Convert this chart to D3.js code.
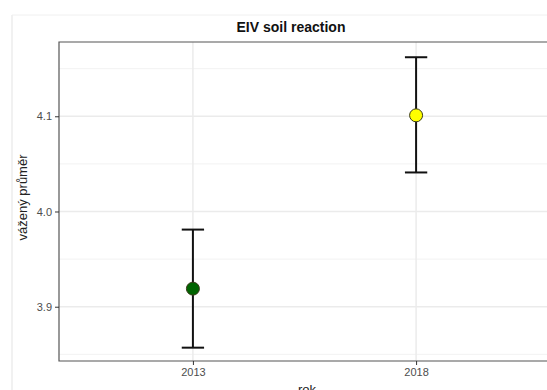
<!DOCTYPE html>
<html>
<head>
<meta charset="utf-8">
<script src="https://cdn.jsdelivr.net/npm/d3@7"></script>
<style>
  html, body { margin: 0; padding: 0; background: #fff; overflow: hidden; }
  svg { display: block; }
  text { font-family: "Liberation Sans", Arial, sans-serif; }
</style>
</head>
<body>
<svg id="chart" width="547" height="390"></svg>
<script>
// data
var years = ["2013", "2018"];
var means = [3.919, 4.101];
var lower = [3.857, 4.041];
var upper = [3.981, 4.162];
var fills = ["#006400", "#ffff00"];
var yTicks = [3.9, 4.0, 4.1];
var yMinor = [3.85, 3.95, 4.05, 4.15];

var svg = d3.select("#chart");

var margin = {top: 42, left: 59},
    panelW = 491,
    panelH = 319;

// faint frame from the screenshot
svg.append("line").attr("x1", 12).attr("x2", 12).attr("y1", 15).attr("y2", 390)
    .attr("stroke", "#e3e3e3").attr("stroke-width", 1);
svg.append("line").attr("x1", 12).attr("x2", 547).attr("y1", 15).attr("y2", 15)
    .attr("stroke", "#f0f0f0").attr("stroke-width", 1);

var g = svg.append("g")
    .attr("transform", "translate(" + margin.left + "," + margin.top + ")");

// discrete x like ggplot: positions 1..n with 0.6 expansion
var x = d3.scaleLinear().domain([0.4, years.length + 0.6]).range([0, panelW]);
var y = d3.scaleLinear().domain([3.843, 4.178]).range([panelH, 0]);

// grid
g.selectAll(".minor").data(yMinor).enter().append("line")
    .attr("x1", 0).attr("x2", panelW)
    .attr("y1", function(d) { return y(d); }).attr("y2", function(d) { return y(d); })
    .attr("stroke", "#f2f2f2").attr("stroke-width", 1);
g.selectAll(".major").data(yTicks).enter().append("line")
    .attr("x1", 0).attr("x2", panelW)
    .attr("y1", function(d) { return y(d); }).attr("y2", function(d) { return y(d); })
    .attr("stroke", "#ebebeb").attr("stroke-width", 1.5);
g.selectAll(".vmajor").data(years).enter().append("line")
    .attr("x1", function(d, i) { return x(i + 1); }).attr("x2", function(d, i) { return x(i + 1); })
    .attr("y1", 0).attr("y2", panelH)
    .attr("stroke", "#ebebeb").attr("stroke-width", 1.5);

// panel border (right side falls outside the crop)
g.append("path")
    .attr("d", "M" + (panelW + 20) + ",0H0V" + panelH + "H" + (panelW + 20))
    .attr("fill", "none").attr("stroke", "#555").attr("stroke-width", 1.2);

// axes
var yAxis = d3.axisLeft(y).tickValues(yTicks).tickFormat(d3.format(".1f")).tickSize(4).tickPadding(3);
var xAxis = d3.axisBottom(x).tickValues([1, 2]).tickFormat(function(d) { return years[d - 1]; }).tickSize(4).tickPadding(3);

var ya = g.append("g").call(yAxis);
var xa = g.append("g").attr("transform", "translate(0," + panelH + ")").call(xAxis);
[ya, xa].forEach(function(a) {
    a.select(".domain").remove();
    a.selectAll(".tick line").attr("stroke", "#333");
    a.selectAll(".tick text").attr("fill", "#4d4d4d").style("font-size", "11px");
});

// error bars
var capHalf = x(1.05) - x(1);
var bars = g.selectAll(".eb").data(years).enter().append("g");
bars.append("line")
    .attr("x1", function(d, i) { return x(i + 1); }).attr("x2", function(d, i) { return x(i + 1); })
    .attr("y1", function(d, i) { return y(lower[i]); }).attr("y2", function(d, i) { return y(upper[i]); })
    .attr("stroke", "#111").attr("stroke-width", 2);
bars.append("line")
    .attr("x1", function(d, i) { return x(i + 1) - capHalf; }).attr("x2", function(d, i) { return x(i + 1) + capHalf; })
    .attr("y1", function(d, i) { return y(upper[i]); }).attr("y2", function(d, i) { return y(upper[i]); })
    .attr("stroke", "#111").attr("stroke-width", 2);
bars.append("line")
    .attr("x1", function(d, i) { return x(i + 1) - capHalf; }).attr("x2", function(d, i) { return x(i + 1) + capHalf; })
    .attr("y1", function(d, i) { return y(lower[i]); }).attr("y2", function(d, i) { return y(lower[i]); })
    .attr("stroke", "#111").attr("stroke-width", 2);

// points
g.selectAll(".dot").data(years).enter().append("circle")
    .attr("cx", function(d, i) { return x(i + 1); })
    .attr("cy", function(d, i) { return y(means[i]); })
    .attr("r", 6.5)
    .attr("fill", function(d, i) { return fills[i]; })
    .attr("stroke", "#3a3a1a").attr("stroke-width", 1);

// title and labels
svg.append("text")
    .attr("x", 291).attr("y", 32)
    .style("text-anchor", "middle").style("font-size", "14px").style("font-weight", "bold")
    .attr("fill", "#111")
    .text("EIV soil reaction");

svg.append("text")
    .attr("transform", "translate(27," + (margin.top + panelH / 2 - 4) + ") rotate(-90)")
    .style("text-anchor", "middle").style("font-size", "13px")
    .attr("fill", "#222")
    .text("vážený průměr");

svg.append("text")
    .attr("x", 307).attr("y", 394)
    .style("text-anchor", "middle").style("font-size", "13px")
    .attr("fill", "#222")
    .text("rok");
</script>
</body>
</html>
